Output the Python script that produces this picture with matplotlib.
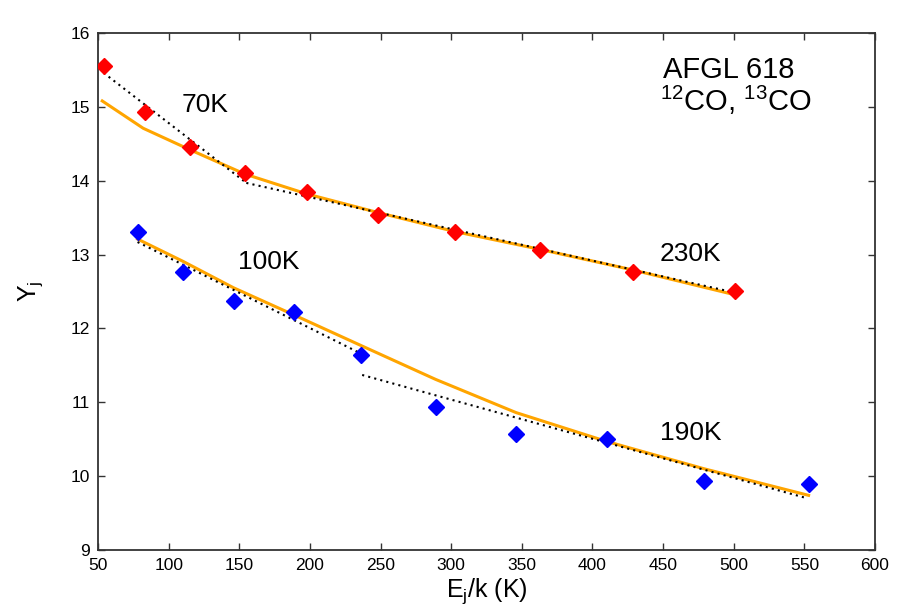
import matplotlib
matplotlib.use("Agg")
import matplotlib.pyplot as plt

plt.rcParams['font.family'] = ['Liberation Sans', 'DejaVu Sans']
plt.rcParams['mathtext.fontset'] = 'custom'
plt.rcParams['mathtext.rm'] = 'Liberation Sans'
plt.rcParams['mathtext.it'] = 'Liberation Sans'

# 12CO (red) data points
red_x = [54, 83, 115, 154, 198, 248, 303, 363, 429, 501]
red_y = [15.55, 14.93, 14.46, 14.11, 13.85, 13.54, 13.30, 13.06, 12.77, 12.51]
# 13CO (blue) data points
blue_x = [78, 110, 146, 189, 236, 289, 346, 410, 479, 553]
blue_y = [13.31, 12.77, 12.37, 12.22, 11.64, 10.93, 10.57, 10.50, 9.93, 9.89]

# model curves (orange)
orange_up_x = [53, 82, 115, 154, 198, 248, 303, 363, 429, 502]
orange_up_y = [15.08, 14.71, 14.42, 14.09, 13.82, 13.57, 13.31, 13.07, 12.79, 12.45]
orange_lo_x = [78, 110, 146, 189, 236, 289, 346, 410, 479, 553]
orange_lo_y = [13.21, 12.91, 12.55, 12.18, 11.77, 11.31, 10.86, 10.47, 10.10, 9.74]

# dotted linear fits
fit70_x = [54, 155]
fit70_y = [15.46, 13.97]
fit230_x = [155, 502]
fit230_y = [13.97, 12.48]
fit100_x = [78, 234]
fit100_y = [13.17, 11.68]
fit190_x = [237, 552]
fit190_y = [11.37, 9.70]

fig = plt.figure(figsize=(9.10, 6.14), dpi=100)
ax = fig.add_axes([98/910, 1-550/614, (875-98)/910, (550-33)/614])

ax.plot(orange_up_x, orange_up_y, color='#ffa500', lw=2.2, zorder=2)
ax.plot(orange_lo_x, orange_lo_y, color='#ffa500', lw=2.2, zorder=2)
for fx, fy in [(fit70_x, fit70_y), (fit230_x, fit230_y), (fit100_x, fit100_y), (fit190_x, fit190_y)]:
    ax.plot(fx, fy, color='black', lw=1.5, ls=(0, (1, 2)), zorder=3)
ax.plot(red_x, red_y, ls='none', marker='D', color='#ff0000', ms=8, mec='#ff0000', zorder=4)
ax.plot(blue_x, blue_y, ls='none', marker='D', color='#0000ff', ms=8, mec='#0000ff', zorder=4)

ax.set_xlim(50, 600)
ax.set_ylim(9, 16)
ax.set_xticks(range(50, 601, 50))
ax.set_yticks(range(9, 17))
ax.tick_params(direction='in', length=5, width=1, top=True, right=True,
               labelsize=12.5, colors='#333333', labelcolor='black', pad=6)
for s in ax.spines.values():
    s.set_linewidth(1.3)
    s.set_color('#333333')

ax.text(109.5, 15.02, '70K', fontsize=19, va='center', ha='left')
ax.text(149, 12.90, '100K', fontsize=19, va='center', ha='left')
ax.text(447.5, 13.01, '230K', fontsize=19, va='center', ha='left')
ax.text(447.5, 10.58, '190K', fontsize=19, va='center', ha='left')
ax.text(450, 15.50, 'AFGL 618', fontsize=21, va='center', ha='left')
ax.text(448, 15.09, r'$^{12}$CO, $^{13}$CO', fontsize=21, va='center', ha='left')

ax.set_xlabel(r'E$_{\rm j}$/k (K)', fontsize=18, labelpad=2)
ax.set_ylabel(r'Y$_{\rm j}$', fontsize=18, labelpad=18)

fig.savefig('out.png', dpi=100)
